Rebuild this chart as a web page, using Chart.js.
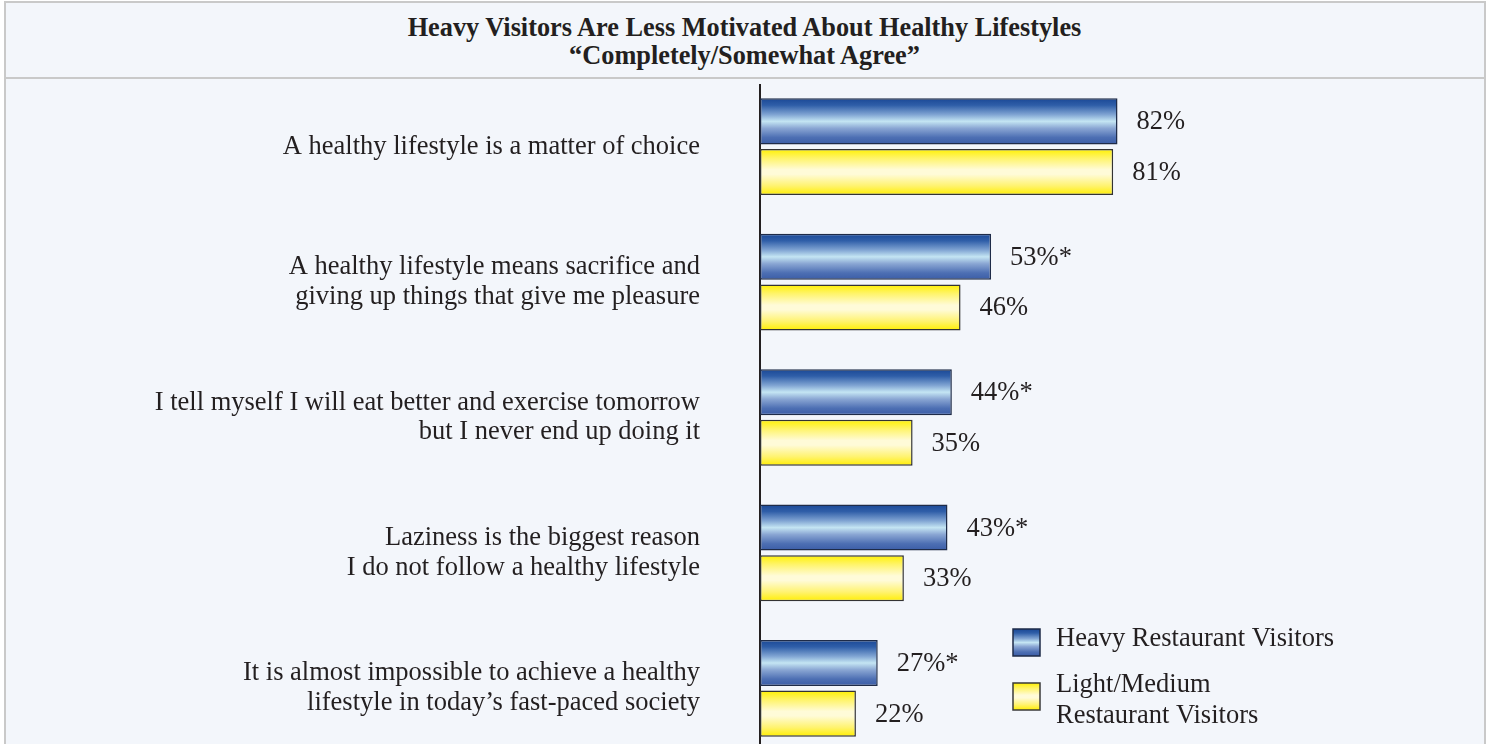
<!DOCTYPE html>
<html>
<head>
<meta charset="utf-8">
<title>Heavy Visitors Are Less Motivated About Healthy Lifestyles</title>
<script src="https://cdn.jsdelivr.net/npm/chart.js@4.4.0/dist/chart.umd.min.js"></script>
<style>
  html, body { margin: 0; padding: 0; background: #ffffff; }
  #page { position: relative; width: 1489px; height: 744px; overflow: hidden; }
  #frame {
    position: absolute; left: 4px; top: 1px; width: 1478px; height: 800px;
    background: #f3f6fb; border: 2px solid #c9c9c9; border-bottom: none;
  }
  #rule { position: absolute; left: 6px; top: 77px; width: 1478px; height: 2px; background: #c9c9c9; }
  #heading {
    position: absolute; left: 0; top: 14px; width: 1489px; text-align: center;
    font: bold 26.3px/28px 'Liberation Serif', 'Times New Roman', serif; color: #231f20;
  }
  #chartBox { position: absolute; left: 0; top: 0; }
</style>
</head>
<body>
<div id="page">
  <div id="frame"></div>
  <div id="rule"></div>
  <div id="heading">Heavy Visitors Are Less Motivated About Healthy Lifestyles<br>&ldquo;Completely/Somewhat Agree&rdquo;</div>
  <canvas id="chartBox" width="1489" height="756"></canvas>
</div>
<script>
document.addEventListener("DOMContentLoaded", function() {
    // Survey statements (tick labels, split over lines)
    const statements = [
        ["A healthy lifestyle is a matter of choice"],
        ["A healthy lifestyle means sacrifice and", "giving up things that give me pleasure"],
        ["I tell myself I will eat better and exercise tomorrow", "but I never end up doing it"],
        ["Laziness is the biggest reason", "I do not follow a healthy lifestyle"],
        ["It is almost impossible to achieve a healthy", "lifestyle in today\u2019s fast-paced society"]
    ];

    // % completely/somewhat agree
    const heavyValues = [82, 53, 44, 43, 27];
    const lightValues = [81, 46, 35, 33, 22];

    // * = significantly different from light/medium visitors
    const heavySignificant = [false, true, true, true, true];
    const lightSignificant = [false, false, false, false, false];

    const seriesNames = ["Heavy Restaurant Visitors", "Light/Medium Restaurant Visitors"];
    const legendLines = [["Heavy Restaurant Visitors"], ["Light/Medium", "Restaurant Visitors"]];

    const SERIF = "'Liberation Serif', 'Times New Roman', serif";
    const INK = '#231f20';
    const FONT_SIZE = 26.5;
    const CAT_PCT = 0.748;
    const BAR_PCT = 0.909;

    const blueStops = [[0, '#1a4896'], [0.15, '#2f5ea8'], [0.35, '#7fa3d2'], [0.5, '#c4e5f3'],
                       [0.65, '#8aa6d3'], [0.85, '#4d6fb3'], [1, '#3a5ca6']];
    const yellowStops = [[0, '#fff000'], [0.2, '#fff46a'], [0.45, '#fffbd8'], [0.55, '#fffbd8'],
                         [0.8, '#fff370'], [1, '#ffee00']];

    function makeGradient(c, top, bottom, stops) {
        const g = c.createLinearGradient(0, top, 0, bottom);
        stops.forEach(s => g.addColorStop(s[0], s[1]));
        return g;
    }

    // Vertical gradient sized to each bar, worked out from the category scale
    function barFill(stops) {
        return function(ctx) {
            const chart = ctx.chart;
            const y = chart.scales.y;
            if (!y || !chart.chartArea) return stops[3][1];
            const center = y.getPixelForValue(ctx.dataIndex);
            const band = y.height / chart.data.labels.length;
            const slot = band * CAT_PCT / 2;
            const thick = slot * BAR_PCT;
            const mid = center + (ctx.datasetIndex - 0.5) * slot;
            return makeGradient(chart.ctx, mid - thick / 2, mid + thick / 2, stops);
        };
    }

    // Axis line (starts a little below the header rule)
    const axisLine = {
        id: 'axisLine',
        beforeDatasetsDraw(chart) {
            const c = chart.ctx;
            const a = chart.chartArea;
            c.save();
            c.strokeStyle = INK;
            c.lineWidth = 2;
            c.beginPath();
            c.moveTo(a.left, a.top + 5);
            c.lineTo(a.left, a.bottom);
            c.stroke();
            c.restore();
        }
    };

    // Value labels at the end of each bar, plus the boxed legend
    const annotate = {
        id: 'annotate',
        afterDatasetsDraw(chart) {
            const c = chart.ctx;
            const flags = [heavySignificant, lightSignificant];
            c.save();
            c.font = FONT_SIZE + 'px ' + SERIF;
            c.fillStyle = INK;
            c.textAlign = 'left';
            c.textBaseline = 'middle';
            chart.data.datasets.forEach((ds, di) => {
                chart.getDatasetMeta(di).data.forEach((bar, i) => {
                    const txt = ds.data[i] + '%' + (flags[di][i] ? '*' : '');
                    c.fillText(txt, bar.x + 19, bar.y + 1);
                });
            });

            // legend
            const lg = chart.options.plugins.annotate;
            const swatchStops = [blueStops, yellowStops];
            c.textBaseline = 'alphabetic';
            legendLines.forEach((lines, k) => {
                const sy = lg.swatchY[k];
                c.fillStyle = makeGradient(c, sy, sy + lg.size, swatchStops[k]);
                c.fillRect(lg.x, sy, lg.size, lg.size);
                c.lineWidth = 1.5;
                c.strokeStyle = k === 0 ? '#1e2b48' : '#3a3a3a';
                c.strokeRect(lg.x, sy, lg.size, lg.size);
                c.fillStyle = INK;
                lines.forEach((ln, j) => {
                    c.fillText(ln, lg.textX, lg.baseY[k] + j * 31);
                });
            });
            c.restore();
        }
    };

    const ctx = document.getElementById('chartBox').getContext('2d');

    new Chart(ctx, {
        type: 'bar',
        data: {
            labels: statements,
            datasets: [{
                label: seriesNames[0],
                data: heavyValues,
                backgroundColor: barFill(blueStops),
                borderColor: '#1e2b48',
                borderWidth: 1.5,
                borderSkipped: false
            }, {
                label: seriesNames[1],
                data: lightValues,
                backgroundColor: barFill(yellowStops),
                borderColor: '#333333',
                borderWidth: 1.5,
                borderSkipped: false
            }]
        },
        options: {
            indexAxis: 'y',
            responsive: false,
            animation: false,
            categoryPercentage: CAT_PCT,
            barPercentage: BAR_PCT,
            layout: { padding: { left: 0, right: 293, top: 79, bottom: 0 } },
            scales: {
                x: {
                    display: false,
                    min: 0,
                    max: 100
                },
                y: {
                    grid: { display: false, drawTicks: false },
                    border: { display: false },
                    ticks: {
                        padding: 60,
                        color: INK,
                        font: { family: SERIF, size: FONT_SIZE, lineHeight: 1.12 }
                    },
                    afterFit(scale) {
                        scale.width = 760;
                        scale.paddingTop = 0;
                        scale.paddingBottom = 0;
                    }
                }
            },
            plugins: {
                legend: { display: false },
                tooltip: { enabled: false },
                annotate: {
                    x: 1013,
                    size: 27,
                    swatchY: [629, 683],
                    textX: 1056,
                    baseY: [646, 692]
                }
            }
        },
        plugins: [axisLine, annotate]
    });
});
</script>
</body>
</html>
